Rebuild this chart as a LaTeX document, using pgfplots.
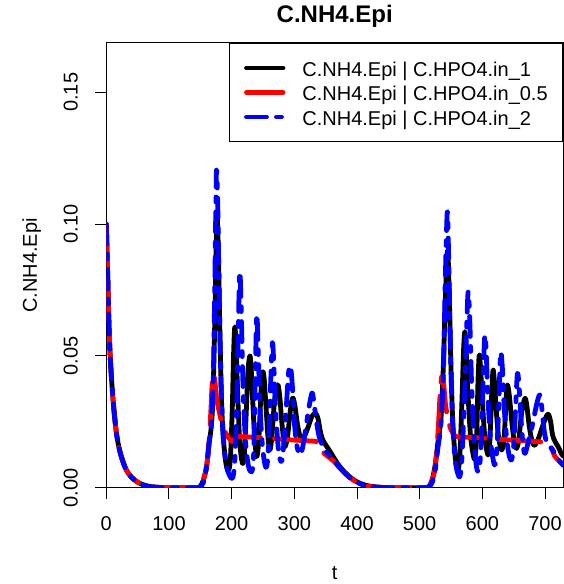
\documentclass[border=0pt]{standalone}
\usepackage{fontspec}
\setmainfont{Liberation Sans}
\usepackage{pgfplots}
\pgfplotsset{compat=1.18}
\begin{document}
\fontsize{20bp}{24bp}\selectfont
\begin{tikzpicture}
\useasboundingbox (0,0) rectangle (564bp,584bp);
\begin{axis}[
  at={(106.3bp,96.3bp)}, anchor=south west,
  scale only axis, width=456.9bp, height=444.7bp,
  xmin=0, xmax=729, ymin=0, ymax=0.1687,
  axis line style={line width=1bp},
  tick align=outside, tick pos=left,
  major tick length=11bp,
  major tick style={line width=1bp, black},
  xtick={0,100,200,300,400,500,600,700},
  xticklabels={0,100,200,300,400,500,600,700},
  ytick={0,0.05,0.10,0.15},
  yticklabels={0.00,0.05,0.10,0.15},
  xticklabel style={anchor=north, inner sep=0pt, font=\fontsize{20bp}{24bp}\selectfont},
  yticklabel style={rotate=90, anchor=south, inner sep=0pt, font=\fontsize{20bp}{24bp}\selectfont},
  xticklabel shift=18bp,
  yticklabel shift=17.3bp,
  title={C.NH4.Epi},
  title style={at={(0.5,1.0331)}, anchor=base, inner sep=0pt, font=\bfseries\fontsize{24bp}{28bp}\selectfont},
  xlabel={t},
  xlabel style={at={(0.5,-0.2053)}, anchor=base, inner sep=0pt, font=\fontsize{20bp}{24bp}\selectfont},
  ylabel={C.NH4.Epi},
  ylabel style={at={(-0.1517,0.5)}, anchor=base, inner sep=0pt, font=\fontsize{20bp}{24bp}\selectfont},
  legend cell align=left,
  legend image code/.code={\draw[#1] (0bp,0bp) -- (36.5bp,0bp);},
  legend style={at={(1,1)}, anchor=north east, draw=black, line width=1bp,
    inner xsep=15bp, inner ysep=12.35bp, column sep=17bp, row sep=0pt,
    font=\fontsize{20bp}{24bp}\selectfont,
    nodes={inner sep=0pt, text height=20.35bp, text depth=4.15bp}},
  every axis plot/.append style={line width=4.8bp, line cap=round, line join=round, smooth, tension=0.5},
]
% black: C.HPO4.in_1
\addplot[black, solid] coordinates {
(0,0.100)(2,0.083)(4,0.064)(6,0.051)(9,0.039)(12,0.030)(16,0.021)(20,0.0155)(25,0.011)(32,0.0067)(40,0.004)(50,0.0021)(60,0.001)(70,0.0004)(85,0.0001)(100,0)
(145,0)(150,0.0005)(155,0.003)(160,0.008)(164,0.017)(167,0.022)(170,0.033)(173,0.062)(175,0.088)(177,0.102)(179,0.088)(181,0.062)(184,0.032)(187,0.018)(191,0.009)(195,0.0067)
(198,0.011)(201,0.030)(203,0.050)(205,0.061)(207,0.054)(210,0.033)(213,0.017)(217,0.0094)
(220,0.012)(223,0.027)(226,0.044)(229,0.050)(231,0.046)(234,0.031)(237,0.018)(240,0.0118)
(243,0.017)(246,0.032)(248,0.041)(250,0.044)(252,0.041)(255,0.030)(258,0.019)(261,0.0143)
(264,0.019)(268,0.032)(271,0.037)(274,0.039)(277,0.034)(280,0.025)(283,0.018)(285,0.0155)
(289,0.019)(293,0.028)(296,0.033)(298,0.034)(301,0.031)(305,0.024)(309,0.0195)(312,0.0187)
(317,0.020)(322,0.023)(328,0.027)(332,0.028)(335,0.028)(338,0.026)(341,0.022)(344,0.019)(348,0.017)
(355,0.0145)(362,0.0118)(370,0.0088)(380,0.006)(390,0.0038)(400,0.0022)(410,0.0012)(420,0.0006)(435,0.0002)(450,0)
(510,0)(515,0.0005)(520,0.003)(525,0.009)(529,0.017)(532,0.022)(535,0.030)(538,0.048)(541,0.072)(544.5,0.090)(547,0.075)(550,0.045)(553,0.024)(557,0.011)(561,0.0067)
(564,0.012)(567,0.030)(570,0.052)(572,0.0592)(574,0.053)(577,0.036)(581,0.020)(585,0.013)(588,0.0111)
(591,0.020)(593,0.040)(595,0.0503)(597,0.046)(600,0.033)(604,0.019)(609,0.0124)
(612,0.018)(615,0.036)(617,0.0446)(619,0.041)(622,0.030)(626,0.019)(631,0.0143)
(635,0.020)(638,0.034)(640,0.039)(643,0.035)(647,0.025)(651,0.017)(654.5,0.0149)
(658,0.018)(663,0.029)(668,0.0339)(671,0.031)(675,0.023)(680,0.017)(684,0.0162)
(690,0.019)(697,0.024)(703,0.0275)(706,0.0276)(709,0.025)(712,0.020)(716,0.0175)(721,0.0155)(726,0.013)(729,0.012)
};
\addlegendentry{C.NH4.Epi | C.HPO4.in\_1}
% red: C.HPO4.in_0.5
\addplot[red, dash pattern=on 42bp off 14bp] coordinates {
(0,0.100)(2,0.083)(4,0.064)(6,0.051)(9,0.039)(12,0.030)(16,0.021)(20,0.0155)(25,0.011)(32,0.0067)(40,0.004)(50,0.0021)(60,0.001)(70,0.0004)(85,0.0001)(100,0)
(145,0)(150,0.0005)(155,0.003)(160,0.008)(164,0.017)(167,0.030)(169,0.040)(171,0.0434)(173,0.041)(176,0.034)(180,0.029)(185,0.024)(190,0.021)(195,0.019)(201,0.0175)
(206,0.019)(212,0.0195)(230,0.0192)(260,0.0188)(290,0.0182)(320,0.0178)(335,0.0175)(340,0.0165)(344,0.014)(350,0.0125)(357,0.0112)(364,0.0098)(372,0.0076)(382,0.0052)(392,0.0032)(402,0.0018)(412,0.0009)(425,0.0003)(440,0.0001)(455,0)
(510,0)(515,0.0005)(520,0.003)(525,0.008)(529.5,0.022)(532,0.033)(535,0.042)(538,0.040)(541,0.032)(545,0.026)(550,0.022)(555,0.020)(559,0.0193)
(570,0.0192)(590,0.019)(620,0.0185)(650,0.018)(680,0.0176)(700,0.0172)(708,0.0167)(712,0.014)(716,0.0118)(721,0.0105)(726,0.0095)(729,0.009)
};
\addlegendentry{C.NH4.Epi | C.HPO4.in\_0.5}
% blue: C.HPO4.in_2
\addplot[blue, dash pattern=on 20bp off 10bp on 5bp off 10bp] coordinates {
(0,0.100)(2,0.083)(4,0.064)(6,0.051)(9,0.039)(12,0.030)(16,0.021)(20,0.0155)(25,0.011)(32,0.0067)(40,0.004)(50,0.0021)(60,0.001)(70,0.0004)(85,0.0001)(100,0)
(145,0)(150,0.0005)(155,0.002)(160,0.008)(164,0.017)(168,0.025)(171,0.045)(173,0.075)(175,0.110)(176,0.1205)(178,0.105)(180,0.075)(183,0.040)(187,0.018)(192,0.008)(197,0.0045)(201.5,0.0036)
(205,0.010)(208,0.030)(211,0.065)(213,0.082)(215,0.070)(218,0.040)(222,0.018)(227,0.008)(232,0.0061)
(235,0.012)(237.5,0.040)(240,0.0655)(242,0.055)(245,0.032)(249,0.016)(253,0.009)(256,0.008)
(259,0.016)(262,0.038)(265,0.055)(267,0.048)(270,0.030)(274,0.016)(277,0.011)(280,0.0101)
(283,0.016)(287,0.030)(291,0.044)(294,0.0459)(297,0.038)(300,0.025)(304,0.016)(309,0.0124)
(313,0.015)(318,0.022)(323,0.030)(327,0.035)(329,0.0358)(332,0.031)(336,0.024)(340,0.019)(345,0.016)(350,0.0138)
(357,0.012)(364,0.0102)(372,0.0078)(382,0.0052)(392,0.0032)(402,0.0018)(412,0.0009)(425,0.0003)(440,0.0001)(455,0)
(510,0)(515,0.0004)(520,0.002)(525,0.007)(529,0.015)(532,0.020)(535,0.028)(538,0.045)(541,0.080)(544,0.1046)(546,0.090)(549,0.055)(552,0.028)(556,0.012)(560,0.006)(564,0.0042)
(567,0.010)(570,0.025)(573,0.045)(575.5,0.065)(577.5,0.0743)(580,0.063)(583,0.038)(587,0.018)(590,0.009)(593.4,0.0061)
(597,0.012)(600,0.030)(602,0.047)(604,0.0579)(606,0.052)(609,0.034)(613,0.018)(617,0.011)(620,0.0086)
(623,0.014)(626,0.030)(628,0.045)(629.5,0.0515)(632,0.045)(635,0.030)(639,0.018)(643,0.012)(646.5,0.0105)
(650,0.016)(653,0.030)(656,0.0434)(659,0.037)(662,0.025)(665,0.016)(668,0.013)
(673,0.017)(680,0.024)(687,0.032)(691.7,0.0352)(695,0.030)(699,0.021)(703,0.017)(708,0.0155)(713,0.014)(719,0.0115)(724,0.0098)(729,0.0085)
};
\addlegendentry{C.NH4.Epi | C.HPO4.in\_2}
\end{axis}
\end{tikzpicture}
\end{document}
